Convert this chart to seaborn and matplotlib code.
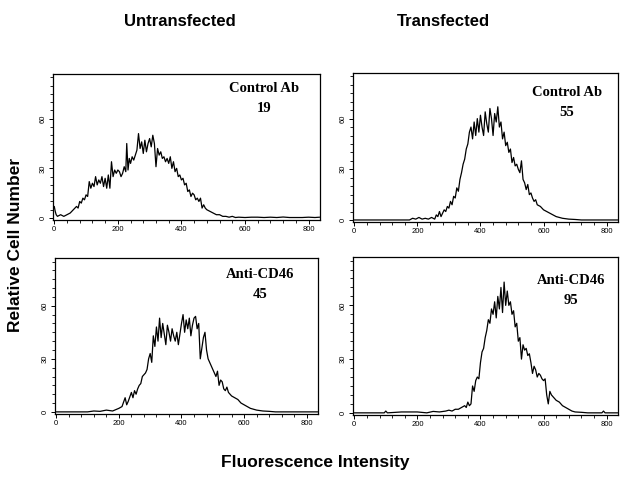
import matplotlib
matplotlib.use("Agg")
import matplotlib.pyplot as plt
import seaborn as sns
from matplotlib.ticker import MultipleLocator

sns.set_style("ticks")
plt.rcParams['font.family'] = ['Liberation Sans', 'DejaVu Sans']
plt.rcParams['text.color'] = 'black'
plt.rcParams['xtick.color'] = 'black'
plt.rcParams['ytick.color'] = 'black'

# ---- data ----
untr_ctrl_x = [0, 3, 6, 10, 20, 30, 40, 50, 60, 70,
               75, 80, 85, 90, 95, 100, 105, 110, 115, 120,
               125, 130, 135, 140, 145, 150, 155, 160, 165, 170,
               175, 180, 185, 190, 195, 200, 205, 210, 215, 220,
               225, 228, 232, 236, 240, 245, 250, 255, 260, 265,
               270, 275, 280, 285, 290, 295, 300, 305, 310, 315,
               320, 325, 330, 335, 340, 345, 350, 355, 360, 365,
               370, 375, 380, 385, 390, 395, 400, 405, 410, 415,
               420, 425, 430, 435, 440, 445, 450, 455, 460, 465,
               470, 475, 480, 490, 500, 510, 520, 530, 540, 550,
               560, 570, 580, 600, 620, 640, 660, 680, 700, 720,
               740, 760, 780, 800, 820, 835]
untr_ctrl_y = [7, 4, 2, 1, 2, 1, 2, 3, 5, 7,
               6, 10, 9, 12, 11, 14, 13, 22, 18, 21,
               19, 25, 20, 23, 21, 25, 19, 24, 18, 26,
               18, 34, 25, 29, 27, 29, 28, 25, 27, 31,
               28, 45, 29, 36, 33, 37, 35, 38, 41, 51,
               42, 46, 39, 47, 40, 45, 48, 43, 50, 45,
               31, 42, 38, 40, 36, 37, 34, 36, 33, 37,
               30, 34, 28, 30, 25, 26, 23, 24, 20, 21,
               16, 17, 13, 15, 14, 11, 12, 10, 12, 6,
               8, 6, 5, 4, 3, 2, 2, 1, 1, 0.5,
               1, 0.3, 0.5, 0.3, 0.5, 0.5, 0.3, 0.5, 0.3, 0.6,
               0.3, 0.3, 0.3, 0.5, 0.3, 0.5]

tr_ctrl_x = [0, 50, 100, 150, 175, 185, 195, 205, 215, 225,
             235, 245, 255, 260, 265, 270, 275, 280, 285, 290,
             295, 300, 305, 310, 315, 320, 325, 330, 335, 340,
             345, 350, 355, 360, 365, 370, 375, 380, 385, 390,
             395, 400, 405, 410, 415, 420, 425, 430, 435, 440,
             445, 450, 455, 460, 465, 470, 475, 480, 485, 490,
             495, 500, 505, 510, 515, 520, 525, 530, 535, 540,
             545, 550, 555, 560, 565, 570, 575, 580, 590, 600,
             610, 620, 630, 640, 650, 660, 680, 700, 720, 760,
             800, 835]
tr_ctrl_y = [0, 0, 0, 0, 0, 1, 0.5, 1.5, 0.5, 1,
             0.5, 1.5, 0.5, 3, 2, 5, 2, 4, 6, 5,
             8, 7, 11, 9, 14, 13, 19, 17, 24, 28,
             33, 36, 42, 45, 52, 55, 48, 58, 50, 60,
             52, 62, 55, 50, 64, 57, 52, 66, 60, 50,
             63, 58, 67, 55, 58, 48, 52, 44, 46, 40,
             42, 34, 37, 32, 33, 30, 28, 35, 24, 22,
             18, 21, 15, 16, 13, 11, 12, 9, 8, 6,
             5, 4, 3, 2, 1.5, 1, 0.5, 0.3, 0, 0,
             0, 0]

untr_cd46_x = [0, 50, 100, 120, 140, 160, 180, 200, 210, 220,
               225, 230, 240, 245, 250, 255, 260, 265, 270, 275,
               280, 285, 290, 295, 300, 305, 310, 315, 320, 325,
               330, 335, 340, 345, 350, 355, 360, 365, 370, 375,
               380, 385, 390, 395, 400, 405, 410, 415, 420, 425,
               430, 435, 440, 445, 450, 455, 460, 465, 470, 475,
               480, 485, 490, 495, 500, 505, 510, 515, 520, 525,
               530, 535, 540, 545, 550, 560, 570, 580, 590, 600,
               610, 620, 630, 640, 660, 680, 700, 750, 800, 835]
untr_cd46_y = [0, 0, 0, 0.5, 0.3, 1, 0.5, 2, 3, 8,
               4, 6, 11, 8, 12, 10, 13, 15, 16, 20,
               21, 22, 24, 30, 33, 28, 43, 37, 48, 40,
               53, 42, 50, 44, 38, 49, 45, 40, 47, 43,
               40, 45, 38, 44, 50, 55, 45, 52, 47, 53,
               43, 49, 53, 54, 47, 50, 30, 36, 42, 45,
               35, 30, 28, 26, 24, 22, 20, 23, 15, 18,
               17, 13, 12, 14, 11, 9, 8, 7, 5, 4,
               3, 2, 1.5, 1, 0.5, 0.3, 0, 0, 0, 0]

tr_cd46_x = [0, 50, 95, 100, 105, 150, 200, 230, 250, 270,
             290, 300, 310, 320, 330, 340, 350, 355, 360, 365,
             370, 375, 380, 385, 390, 395, 400, 405, 410, 415,
             420, 425, 430, 435, 440, 445, 450, 455, 460, 465,
             470, 475, 480, 485, 490, 495, 500, 505, 510, 515,
             520, 525, 530, 535, 540, 545, 550, 555, 560, 565,
             570, 575, 580, 585, 590, 595, 600, 605, 610, 615,
             620, 625, 630, 640, 650, 660, 670, 680, 690, 700,
             720, 740, 760, 785, 790, 795, 835]
tr_cd46_y = [0, 0, 0, 1, 0, 0.5, 0.5, 0, 0.8, 0.5,
             1, 1.5, 1, 2, 2, 3, 4, 3, 6, 4,
             5, 15, 12, 18, 20, 19, 28, 34, 36, 42,
             46, 52, 50, 58, 55, 62, 53, 65, 58, 70,
             56, 73, 60, 68, 60, 62, 55, 57, 48, 50,
             40, 42, 30, 38, 35, 36, 32, 33, 28, 22,
             26, 24, 20, 22, 21, 19, 18, 19, 10, 5,
             12, 10, 9, 7, 6, 4, 3, 2, 1, 0.5,
             0.3, 0, 0, 0, 1, 0, 0]

panel_labels = ["Control Ab", "Control Ab", "Anti-CD46", "Anti-CD46"]
panel_values = ["19", "55", "45", "95"]
col_titles = ["Untransfected", "Transfected"]
x_ticks = [0, 200, 400, 600, 800]
y_ticks = [0, 30, 60]

series = [(untr_ctrl_x, untr_ctrl_y), (tr_ctrl_x, tr_ctrl_y),
          (untr_cd46_x, untr_cd46_y), (tr_cd46_x, tr_cd46_y)]

W, H = 622, 487
fig = plt.figure(figsize=(W / 100, H / 100), dpi=100)

# pixel boxes: left, top, right, bottom
boxes = [(53, 74, 320, 220), (353, 73, 618, 222),
         (55, 258, 318, 414), (353, 257, 618, 415)]
label_pos = [(264, 88, 108), (567, 92, 112), (260, 275, 295), (571, 280, 300)]

for i, ((l, t, r, b), (xs, ys)) in enumerate(zip(boxes, series)):
    ax = fig.add_axes([l / W, 1 - b / H, (r - l) / W, (b - t) / H])
    sns.lineplot(x=xs, y=ys, ax=ax, color="black", linewidth=0.9,
                 estimator=None, sort=False)
    ax.set_xlim(-4, 836)
    ax.set_ylim(-1.2, 87)
    ax.set_xticks(x_ticks)
    ax.set_yticks(y_ticks)
    ax.xaxis.set_minor_locator(MultipleLocator(40))
    ax.yaxis.set_minor_locator(MultipleLocator(5))
    ax.tick_params(axis="both", which="both", bottom=True, left=True,
                   top=False, right=False)
    ax.tick_params(axis="both", which="major", direction="out", length=3,
                   width=0.7, labelsize=5.5, pad=1.5, colors="black")
    ax.tick_params(axis="both", which="minor", direction="out", length=2,
                   width=0.6, colors="black")
    ax.tick_params(axis="y", labelrotation=90)
    for lab in ax.get_yticklabels():
        lab.set_va("center")
    for s in ax.spines.values():
        s.set_visible(True)
        s.set_color("black")
        s.set_linewidth(0.9)
    ax.set_xlabel("")
    ax.set_ylabel("")
    cx, y1, y2 = label_pos[i]
    fig.text(cx / W, 1 - y1 / H, panel_labels[i], ha="center", va="center",
             fontsize=10.5, fontweight="bold", family="Liberation Serif",
             color="black")
    fig.text(cx / W, 1 - y2 / H, panel_values[i], ha="center", va="center",
             fontsize=10.5, fontweight="bold", family="Liberation Serif",
             color="black")

fig.text(180 / W, 1 - 22 / H, col_titles[0], ha="center", va="center",
         fontsize=12, fontweight="bold", color="black")
fig.text(443 / W, 1 - 22 / H, col_titles[1], ha="center", va="center",
         fontsize=12, fontweight="bold", color="black")
fig.text(16 / W, 1 - 245 / H, "Relative Cell Number", ha="center",
         va="center", rotation=90, fontsize=12.5, fontweight="bold",
         color="black")
fig.text(315 / W, 1 - 462 / H, "Fluorescence Intensity", ha="center",
         va="center", fontsize=12.5, fontweight="bold", color="black")

fig.savefig("out.png", dpi=100, facecolor="white")
